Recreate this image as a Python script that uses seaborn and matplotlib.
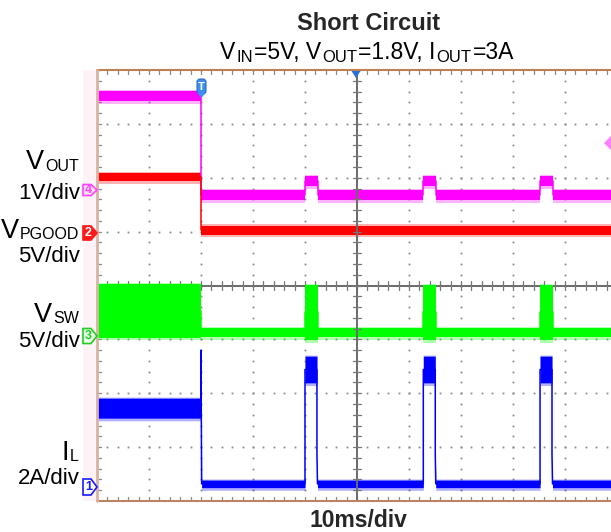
import numpy as np
import pandas as pd
import matplotlib
matplotlib.use("Agg")
import matplotlib.pyplot as plt
from matplotlib.patches import Polygon, Rectangle, FancyBboxPatch
from matplotlib.transforms import IdentityTransform
import seaborn as sns

W, H = 611, 532

# ---------------- waveform data (time in ms, envelopes in channel units) ----------------
# CH4  V_OUT  (V)
vout_t  = [0, 20.0, 20.0, 40.0, 40.0, 42.45, 42.45, 62.75, 62.75, 65.15, 65.15, 85.2, 85.2, 87.6, 87.6, 100]
vout_lo = [1.70, 1.70, -0.13, -0.13, 0.13, 0.13, -0.13, -0.13, 0.13, 0.13, -0.13, -0.13, 0.13, 0.13, -0.13, -0.13]
vout_hi = [1.90, 1.90, 0.06, 0.06, 0.31, 0.31, 0.06, 0.06, 0.31, 0.31, 0.06, 0.06, 0.31, 0.31, 0.06, 0.06]

# CH2  V_PGOOD  (V)
pg_t  = [0, 20.05, 20.05, 100]
pg_lo = [4.75, 4.75, -0.25, -0.25]
pg_hi = [5.45, 5.45, 0.60, 0.60]

# CH3  V_SW  (V)
vsw_t  = [0, 20.0, 20.0, 40.0, 40.0, 42.45, 42.45, 62.75, 62.75, 65.15, 65.15, 85.2, 85.2, 87.6, 87.6, 100]
vsw_lo = [-0.05, -0.05, 0.0, 0.0, -0.3, -0.3, 0.0, 0.0, -0.3, -0.3, 0.0, 0.0, -0.3, -0.3, 0.0, 0.0]
vsw_hi = [4.90, 4.90, 0.85, 0.85, 4.85, 4.85, 0.85, 0.85, 4.85, 4.85, 0.85, 0.85, 4.85, 4.85, 0.85, 0.85]

# CH1  I_L  (A)
il_t  = [0, 20.0, 20.0, 20.12, 40.0, 40.0, 42.3, 42.3, 42.4, 62.75, 62.75, 65.05, 65.05, 65.15,
         85.2, 85.2, 87.5, 87.5, 87.6, 100]
il_lo = [2.63, 2.63, 5.15, 0.05, 0.05, 3.94, 3.94, 1.30, 0.05, 0.05, 3.94, 3.94, 1.30, 0.05,
         0.05, 3.94, 3.94, 1.30, 0.05, 0.05]
il_hi = [3.37, 3.37, 5.15, 0.33, 0.33, 4.93, 4.93, 1.30, 0.33, 0.33, 4.93, 4.93, 1.30, 0.33,
         0.33, 4.93, 4.93, 1.30, 0.33, 0.33]

# channel display settings: ground position (divisions from bottom), units per division, colour
channels = [
    dict(name="CH4", t=vout_t, lo=vout_lo, hi=vout_hi, gnd=5.717, per_div=1.0, color="#ff00ff"),
    dict(name="CH2", t=pg_t, lo=pg_lo, hi=pg_hi, gnd=4.993, per_div=5.0, color="#ff0000"),
    dict(name="CH3", t=vsw_t, lo=vsw_lo, hi=vsw_hi, gnd=3.044, per_div=5.0, color="#00ff00"),
    dict(name="CH1", t=il_t, lo=il_lo, hi=il_hi, gnd=0.223, per_div=2.0, color="#0000ff"),
]

sns.set_style("white")
plt.rcParams["font.family"] = ["Liberation Sans", "DejaVu Sans"]

fig = plt.figure(figsize=(W / 100, H / 100), dpi=100)
fig.patch.set_facecolor("white")

# graticule: 10 x 8 divisions, 10 ms/div
ax = fig.add_axes([97 / W, 31 / H, 520 / W, 431 / H])
ax.set_xlim(0, 100)
ax.set_ylim(0, 8)
ax.axis("off")

# pale strip left of the screen
fig.add_artist(Rectangle((83, H - 501), 14, 431, transform=IdentityTransform(),
                         facecolor="#fdf2f6", edgecolor="none", zorder=0))

dot_c = "#8a8a8a"
gy = np.arange(0, 8.001, 0.2)
gx = np.arange(0, 100.001, 2.0)
for k in range(1, 10):
    if k == 5:
        continue
    ax.plot(np.full_like(gy, k * 10.0), gy, ls="none", marker="s", ms=1.3, mew=0, color=dot_c, zorder=1)
for k in range(1, 8):
    if k == 4:
        continue
    ax.plot(gx, np.full_like(gx, float(k)), ls="none", marker="s", ms=1.3, mew=0, color=dot_c, zorder=1)

# centre axes with fine ticks
ax.axhline(4, color="#6a6a6a", lw=1.4, zorder=1.5)
ax.axvline(50, color="#6a6a6a", lw=1.4, zorder=6)
for x in gx:
    ax.plot([x, x], [4 - 0.075, 4 + 0.075], color="#777777", lw=0.9, zorder=1.5)
    ax.plot([x, x], [8, 8 - 0.07], color="#888888", lw=0.9, zorder=1.5)
    ax.plot([x, x], [0, 0.07], color="#888888", lw=0.9, zorder=1.5)
for y in gy:
    ax.plot([50 - 0.8, 50 + 0.8], [y, y], color="#777777", lw=0.9, zorder=6)
    ax.plot([0, 0.7], [y, y], color="#888888", lw=0.9, zorder=1.5)

# screen border
ax.plot([0, 100], [8, 8], color="#c0814e", lw=1.5, clip_on=False, zorder=7)
ax.plot([0, 100], [0, 0], color="#b88560", lw=1.5, clip_on=False, zorder=7)
ax.plot([0, 0], [0, 8], color="#d9b3a6", lw=2.0, clip_on=False, zorder=7)

# traces
for ch in channels:
    t = np.asarray(ch["t"], float)
    lo = ch["gnd"] + np.asarray(ch["lo"], float) / ch["per_div"]
    hi = ch["gnd"] + np.asarray(ch["hi"], float) / ch["per_div"]
    c = ch["color"]
    ax.fill_between(t, lo - 0.05, hi + 0.02, color=c, alpha=0.30, lw=0, zorder=3)
    ax.fill_between(t, lo, hi, color=c, lw=0, zorder=3.5)
    df = pd.DataFrame({"t": t, "div": (lo + hi) / 2})
    sns.lineplot(data=df, x="t", y="div", color=c, lw=1.1, estimator=None, sort=False,
                 legend=False, ax=ax, zorder=4)
ax.set_xlim(0, 100)
ax.set_ylim(0, 8)


# ---------------- text helpers ----------------
renderer = fig.canvas.get_renderer()


def rich(x, y, parts, ha="left", weight="normal"):
    arts = []
    for txt, size, dy in parts:
        a = fig.text(0, 0, txt, fontsize=size, fontweight=weight, transform=IdentityTransform(),
                     ha="left", va="baseline", color="black")
        arts.append((a, dy))
    widths = [a.get_window_extent(renderer).width + 1 for a, _ in arts]
    total = sum(widths)
    x0 = x - total if ha == "right" else (x - total / 2 if ha == "center" else x)
    for (a, dy), w in zip(arts, widths):
        a.set_position((x0, H - y - dy))
        x0 += w


# title
fig.text(368.5, H - 30, "Short Circuit", fontsize=17, fontweight="bold",
         transform=IdentityTransform(), ha="center", va="baseline")
rich(367.5, 59, [("V", 16.5, 0), ("IN", 12, 2.5), ("=5V, V", 16.5, 0), ("OUT", 12, 2.5),
                 ("=1.8V, I", 16.5, 0), ("OUT", 12, 2.5), ("=3A", 16.5, 0)], ha="center")
fig.text(358, H - 527, "10ms/div", fontsize=16.5, fontweight="bold",
         transform=IdentityTransform(), ha="center", va="baseline")

# channel labels
big, sub, scale_fs = 19.5, 11.5, 16
rich(80, 169, [("V", big, 0), ("OUT", sub, 2)], ha="right")
rich(81, 199, [("1V/div", scale_fs, 0)], ha="right")
rich(80, 238, [("V", big, 0), ("PGOOD", sub, 1)], ha="right")
rich(81, 262, [("5V/div", scale_fs, 0)], ha="right")
rich(80, 322, [("V", big, 0), ("SW", sub, 1)], ha="right")
rich(81, 347, [("5V/div", scale_fs, 0)], ha="right")
rich(80, 460, [("I", big, 0), ("L", sub, 1)], ha="right")
rich(81, 484, [("2A/div", scale_fs, 0)], ha="right")


# channel ground markers
def chan_marker(yc, half, num, edge, face, tc):
    pts = [(83, yc - half), (91, yc - half), (97, yc), (91, yc + half), (83, yc + half)]
    pts = [(x, H - y) for x, y in pts]
    fig.add_artist(Polygon(pts, closed=True, transform=IdentityTransform(),
                           facecolor=face, edgecolor=edge, lw=1.2, zorder=8))
    fig.text(88.5, H - yc, num, fontsize=9, fontweight="bold", color=tc,
             transform=IdentityTransform(), ha="center", va="center", zorder=9)


chan_marker(190, 5.5, "4", "#ff44ff", "#fbe0fb", "#ff44ff")
chan_marker(233, 7, "2", "#ff1a1a", "#ff1a1a", "white")
chan_marker(336, 7.5, "3", "#22cc22", "#e8ffe8", "#22cc22")
chan_marker(487, 8, "1", "#1a1aff", "white", "#1a1aff")

# trigger marker
fig.add_artist(FancyBboxPatch((197, H - 94), 9, 15, boxstyle="round,pad=0,rounding_size=3",
                              transform=IdentityTransform(), facecolor="#3d8ff0",
                              edgecolor="#2a6cc8", lw=0.8, zorder=9))
fig.add_artist(Polygon([(197.5, H - 93), (205.5, H - 93), (201.5, H - 98)], closed=True,
                       transform=IdentityTransform(), facecolor="#3d8ff0", edgecolor="none", zorder=9))
fig.text(201.5, H - 86.5, "T", fontsize=8, fontweight="bold", color="white",
         transform=IdentityTransform(), ha="center", va="center", zorder=10)

# horizontal position marker
fig.add_artist(Polygon([(351.5, H - 71), (360.5, H - 71), (356, H - 78)], closed=True,
                       transform=IdentityTransform(), facecolor="#2a6ee0", edgecolor="none", zorder=9))

# trigger level marker (right edge)
fig.add_artist(Polygon([(611, H - 136), (611, H - 150), (604, H - 143)], closed=True,
                       transform=IdentityTransform(), facecolor="#ff80ff", edgecolor="none", zorder=9))

fig.savefig("out.png", dpi=100)
